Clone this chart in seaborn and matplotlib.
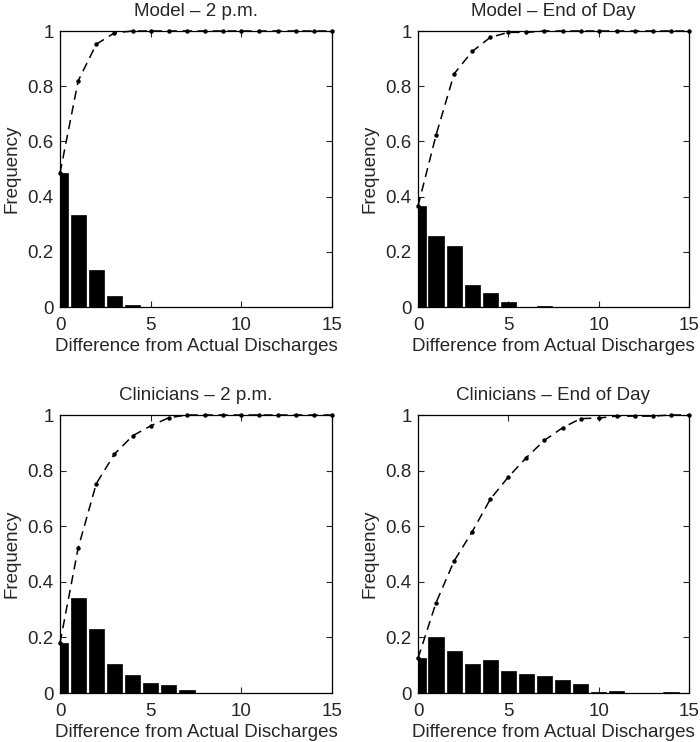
import numpy as np
import pandas as pd
import matplotlib
matplotlib.use("Agg")
import matplotlib.pyplot as plt
import seaborn as sns

# ---- data ----
differences = list(range(16))
titles = ["Model \u2013 2 p.m.", "Model \u2013 End of Day",
          "Clinicians \u2013 2 p.m.", "Clinicians \u2013 End of Day"]
model_2pm = [0.485, 0.334, 0.133, 0.041, 0.007, 0, 0, 0, 0, 0, 0, 0, 0, 0, 0, 0]
model_eod = [0.366, 0.257, 0.222, 0.081, 0.051, 0.018, 0, 0.005, 0, 0, 0, 0, 0, 0, 0, 0]
clin_2pm = [0.18, 0.341, 0.232, 0.106, 0.066, 0.036, 0.029, 0.01, 0, 0, 0, 0, 0, 0, 0, 0]
clin_eod = [0.125, 0.2, 0.15, 0.105, 0.117, 0.08, 0.07, 0.062, 0.045, 0.033,
            0.002, 0.007, 0, 0, 0.004, 0]
series = [model_2pm, model_eod, clin_2pm, clin_eod]
xticks = [0, 5, 10, 15]
yticks = [0, 0.2, 0.4, 0.6, 0.8, 1]
ytick_labels = ["0", "0.2", "0.4", "0.6", "0.8", "1"]

sns.set_style("ticks")
plt.rcParams["font.family"] = ["Liberation Sans", "DejaVu Sans"]
FS = 13.5

fig = plt.figure(figsize=(7.0, 7.42), dpi=100)
W, H = 700, 742
boxes = [(60, 31, 272, 276), (418, 31, 271, 276),
         (60, 415, 272, 278), (418, 415, 271, 278)]

for (l, t, w, h), title, vals in zip(boxes, titles, series):
    ax = fig.add_axes([l / W, 1 - (t + h) / H, w / W, h / H])
    df = pd.DataFrame({"diff": differences, "freq": vals,
                       "cum": np.cumsum(vals)})
    sns.barplot(data=df, x="diff", y="freq", native_scale=True, width=0.84,
                color="black", edgecolor="black", linewidth=0.5,
                saturation=1, ax=ax)
    sns.lineplot(data=df, x="diff", y="cum", color="black", linewidth=1.1,
                 linestyle=(0, (6, 3.8)), marker="o", markersize=3.2,
                 markeredgewidth=0, ax=ax, clip_on=False)
    ax.set_xlim(0, 15)
    ax.set_ylim(0, 1)
    ax.set_xticks(xticks)
    ax.set_xticklabels([str(v) for v in xticks], fontsize=FS)
    ax.set_yticks(yticks)
    ax.set_yticklabels(ytick_labels, fontsize=FS)
    ax.tick_params(axis="x", direction="in", top=True, length=4, width=0.8, pad=7.5)
    ax.tick_params(axis="y", direction="in", right=True, length=4, width=0.8, pad=4.5)
    for s in ax.spines.values():
        s.set_visible(True)
        s.set_linewidth(0.9)
        s.set_color("black")
    ax.set_xlabel("Difference from Actual Discharges", fontsize=FS, labelpad=2.5)
    ax.set_ylabel("Frequency", fontsize=FS, labelpad=5)
    ax.set_title(title, fontsize=FS, pad=11)

fig.savefig("out.png", dpi=100, facecolor="white")
